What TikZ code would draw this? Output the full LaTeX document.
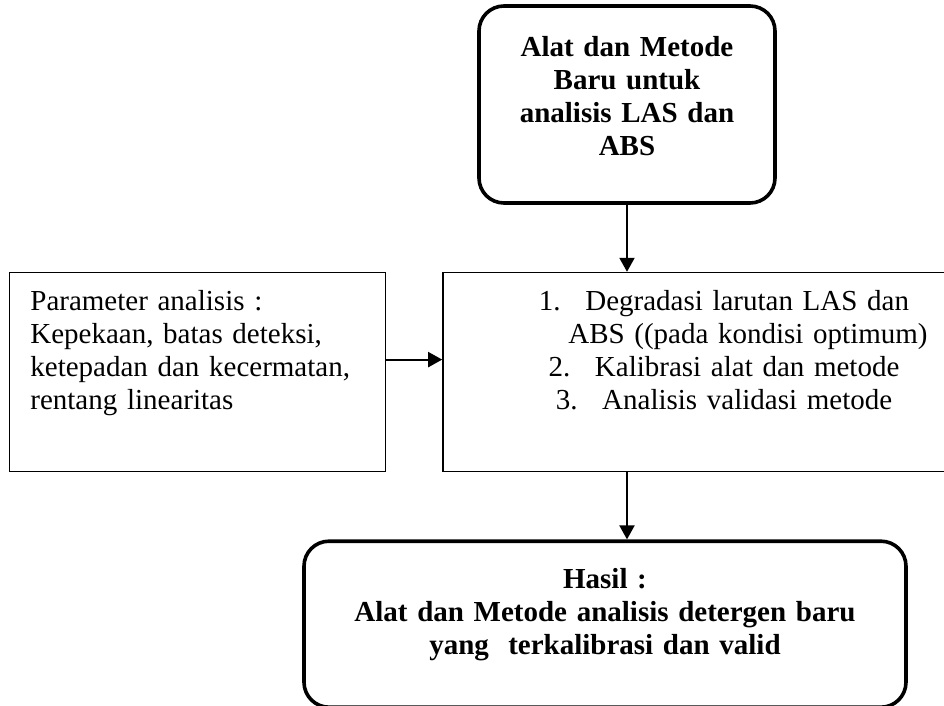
\documentclass[tikz,border=0pt]{standalone}
\usepackage{fontspec}
\setmainfont{Liberation Serif}
\usetikzlibrary{arrows.meta, positioning}

\begin{document}
\begin{tikzpicture}[
    node distance=33.5pt and 28pt,
    font=\fontsize{14.5pt}{16.5pt}\selectfont,
    % Rounded Nodes (Start and Result)
    terminal/.style={
        rectangle,
        rounded corners=12.5pt,
        draw=black,
        line width=1.8pt,
        inner sep=0pt,
        align=center,
        font=\fontsize{14.5pt}{16.5pt}\selectfont\bfseries
    },
    % Plain Boxes (Parameters and Steps)
    process/.style={
        rectangle,
        draw=black,
        line width=0.8pt,
        inner sep=0pt,
        minimum height=99.5pt
    },
    % Connecting Arrows
    arrow/.style={
        draw=black,
        line width=1pt,
        -{Triangle[length=7pt, width=7.5pt]}
    }
]

% --- PAGE FRAME ---
\path[use as bounding box, fill=white] (0,0) rectangle (472pt,-353pt);
\clip (0,0) rectangle (472pt,-353pt);

% --- TOP NODE ---
\node[terminal, text width=148pt, text height=25.5pt, text depth=73pt] (Tools) at (313.5pt,-52.25pt) {Alat dan Metode\\Baru untuk\\analisis LAS dan\\ABS};

% --- MIDDLE: STEPS (runs off the right edge) ---
\node[process, below=of Tools, xshift=48.5pt, text width=281pt, align=center, text height=19pt, text depth=80.5pt] (Steps) {\makebox[1.6em][l]{1.}Degradasi larutan LAS dan\\
\hspace*{24pt}ABS ((pada kondisi optimum)\\
\makebox[1.6em][l]{2.}Kalibrasi alat dan metode\\
\makebox[1.6em][l]{3.}Analisis validasi metode};

% --- LEFT: PARAMETERS ---
\node[process, left=of Steps, text width=167pt, inner xsep=10.5pt, align=left, text height=19pt, text depth=80.5pt] (Param) {Parameter analisis :\\Kepekaan, batas deteksi,\\ketepadan dan kecermatan,\\rentang linearitas};

% --- BOTTOM: RESULT ---
\node[terminal, below=of Steps, xshift=-59.5pt, text width=301pt, text height=23.5pt, text depth=59.5pt] (Result) {Hasil :\\Alat dan Metode analisis detergen baru\\yang\ \ terkalibrasi dan valid};

% --- CONNECTIONS ---
\draw[arrow] (Tools.south) -- (Tools.south |- Steps.north);
\draw[arrow] ([yshift=6.25pt]Param.east) -- ([yshift=6.25pt]Steps.west);
\draw[arrow] (Tools.south |- Steps.south) -- (Tools.south |- Result.north);

\end{tikzpicture}
\end{document}
